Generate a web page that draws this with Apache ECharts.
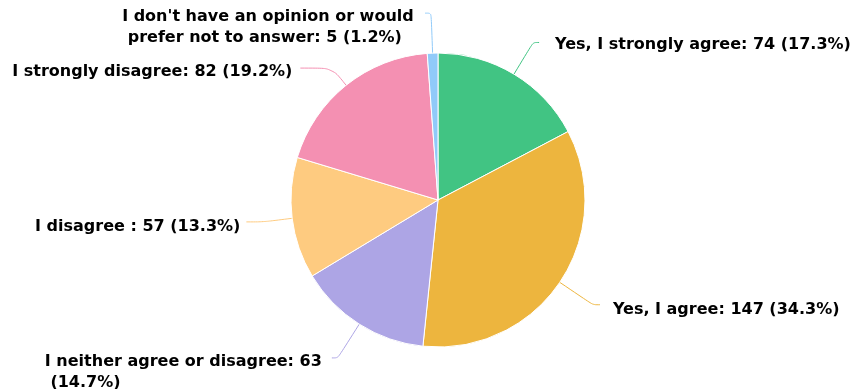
<!DOCTYPE html>
<html>
<head>
<meta charset="utf-8">
<script src="https://cdn.jsdelivr.net/npm/echarts@6/dist/echarts.min.js"></script>
<style>
  html, body { margin: 0; padding: 0; background: #fff; }
  #chart { width: 855px; height: 389px; }
</style>
</head>
<body>
<div id="chart"></div>
<script>
// Survey responses, in drawing order (clockwise from 12 o'clock)
const categories = [
  'Yes, I strongly agree',
  'Yes, I agree',
  'I neither agree or disagree',
  'I disagree ',
  'I strongly disagree',
  "I don't have an opinion or would prefer not to answer"
];
const counts = [74, 147, 63, 57, 82, 5];
const colors = ['#41c483', '#edb53e', '#ada5e5', '#fecb80', '#f490b2', '#90caf9'];

// per-slice label placement: connector lengths, gap to text, vertical nudge, wrap width
const lineLen1 = [37, 40, 40, 29, 22, 40];
const lineLen2 = [6, 7, 6, 17, 32, 6];
const textGap = [16, 13, 7, 6, 8, 9];
const nudgeDown = [4, 10, 28, 9, 7, 29];
const wrapWidths = [0, 0, 280, 0, 0, 294];

const total = counts.reduce((a, b) => a + b, 0);
const labelFont = {
  color: '#000',
  fontFamily: 'DejaVu Sans',
  fontWeight: 'bold',
  fontSize: 16,
  lineHeight: 21
};

const chart = echarts.init(document.getElementById('chart'), null, { renderer: 'canvas' });

chart.setOption({
  animation: false,
  series: [{
    type: 'pie',
    center: [438, 200],
    radius: [0, 147],
    startAngle: 90,
    clockwise: true,
    avoidLabelOverlap: false,
    itemStyle: { borderColor: '#fff', borderWidth: 1 },
    label: Object.assign({
      show: true,
      formatter: p => '{t|' + p.name + ': ' + p.value + ' (' + (p.value / total * 100).toFixed(1) + '%)}',
      rich: { t: Object.assign({ align: 'left' }, labelFont) }
    }, labelFont),
    labelLine: {
      show: true,
      smooth: 0.3,
      lineStyle: { width: 1 }
    },
    data: categories.map((name, i) => {
      const label = {
        distanceToLabelLine: textGap[i],
        padding: [nudgeDown[i], 0, 0, 0]
      };
      if (wrapWidths[i]) {
        label.width = wrapWidths[i];
        label.overflow = 'break';
      }
      return {
        name: name,
        value: counts[i],
        itemStyle: { color: colors[i] },
        label: label,
        labelLine: { length: lineLen1[i], length2: lineLen2[i] }
      };
    })
  }]
});
</script>
</body>
</html>
